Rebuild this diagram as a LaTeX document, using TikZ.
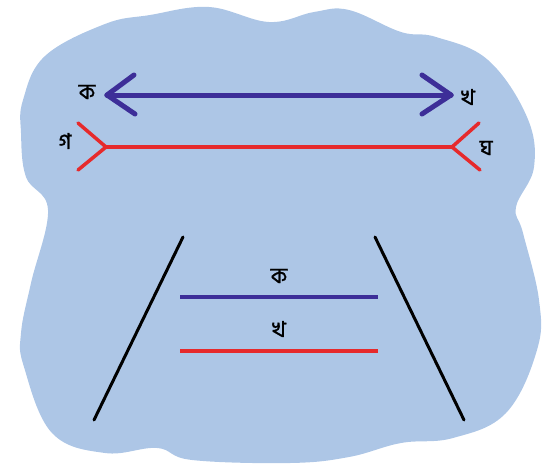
\documentclass[tikz,border=0pt]{standalone}
\usepackage{fontspec}
\newfontfamily\bangla[Script=Bengali, FakeBold=1.2]{Hind Siliguri}
\definecolor{cloudblue}{HTML}{ADC6E6}
\definecolor{arrowblue}{HTML}{3D2E98}
\definecolor{forkred}{HTML}{E62A2C}
\tikzset{
  bnlabel/.style={font=\bangla\fontsize{22}{24}\selectfont, inner sep=0pt},
  blueline/.style={draw=arrowblue, line width=5pt, line cap=round},
  redline/.style={draw=forkred, line width=3.5pt, line cap=round},
  railline/.style={draw=black, line width=3pt, line cap=round}
}

\begin{document}
\begin{tikzpicture}[x=1pt, y=-1pt]
  \useasboundingbox (0,0) rectangle (547,472);

  % Cloud shaped background
  \fill[cloudblue] plot[smooth cycle, tension=0.65] coordinates {
    (23,100) (45,56) (105,24) (150,15) (209,7) (269,22) (314,12) (349,10)
    (401,32) (436,37) (488,60) (527,117) (534,167) (516,207) (523,233)
    (539,300) (537,350) (506,413) (453,438) (401,443) (349,457) (290,463)
    (192,460) (157,448) (105,453) (52,433) (24,367) (21,333) (31,283)
    (48,210) (26,177) (21,133)};

  % Key points of the top figures
  \coordinate (ka tip)       at (107,95);
  \coordinate (kha tip)      at (451,95);
  \coordinate (ga fork)      at (106,147);
  \coordinate (gha fork)     at (452,147);

  % Blue line with arrow heads pointing outwards
  \draw[blueline] (ka tip) -- (kha tip);
  \draw[blueline] (ka tip) -- ++(27,-20);
  \draw[blueline] (ka tip) -- ++(28,19);
  \draw[blueline] (kha tip) -- ++(-29,-20);
  \draw[blueline] (kha tip) -- ++(-29,19);

  % Red line with forks pointing inwards
  \draw[redline] (ga fork) -- (gha fork);
  \draw[redline] (ga fork) -- ++(-28,-24);
  \draw[redline] (ga fork) -- ++(-28,23);
  \draw[redline] (gha fork) -- ++(27,-24);
  \draw[redline] (gha fork) -- ++(28,23);

  % Labels of the top figures
  \node[bnlabel] (ka)  at (87,92)  {ক};
  \node[bnlabel] (kha) at (468,97) {খ};
  \node[bnlabel] (ga)  at (65,141) {গ};
  \node[bnlabel] (gha) at (486,148) {ঘ};

  % Two slanted rails
  \draw[railline] (183,237) -- (94,420);
  \draw[railline] (375,237) -- (464,420);

  % Two equal bars between the rails
  \draw[blueline, line width=3.5pt, line cap=butt] (180,297) -- (378,297);
  \draw[redline, line cap=butt] (180,351) -- (378,351);
  \node[bnlabel] (ka low)  at (279,276) {ক};
  \node[bnlabel] (kha low) at (279,329) {খ};
\end{tikzpicture}
\end{document}
